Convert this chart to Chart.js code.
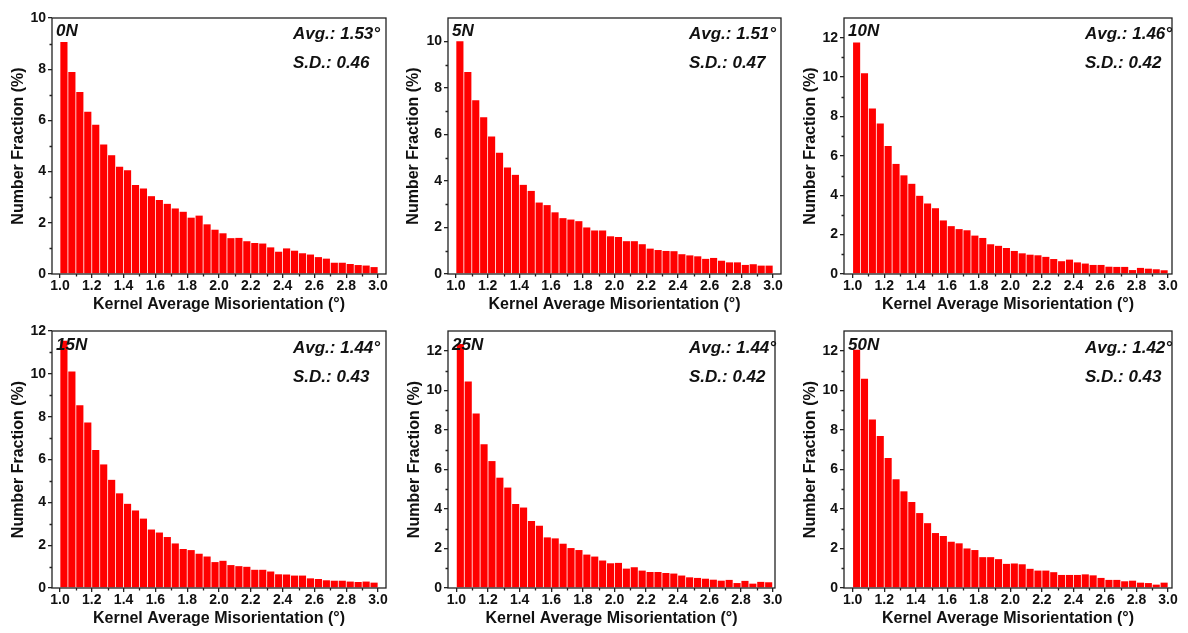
<!DOCTYPE html>
<html>
<head>
<meta charset="utf-8">
<title>Kernel Average Misorientation distributions</title>
<script src="https://cdn.jsdelivr.net/npm/chart.js@4.4.1/dist/chart.umd.min.js"></script>
<style>
  html, body { margin: 0; padding: 0; background: #ffffff; }
  #wrap { position: relative; width: 1188px; height: 633px; overflow: hidden; }
  .panel { position: absolute; }
</style>
</head>
<body>
<div id="wrap"></div>
<script>
// Histogram bins (centres, degrees), 0.05° wide
const binCenters = [1.025, 1.075, 1.125, 1.175, 1.225, 1.275, 1.325, 1.375, 1.425, 1.475,
                    1.525, 1.575, 1.625, 1.675, 1.725, 1.775, 1.825, 1.875, 1.925, 1.975,
                    2.025, 2.075, 2.125, 2.175, 2.225, 2.275, 2.325, 2.375, 2.425, 2.475,
                    2.525, 2.575, 2.625, 2.675, 2.725, 2.775, 2.825, 2.875, 2.925, 2.975];

// Number fraction (%) per bin for each load
const load0N  = [9.06, 7.89, 7.11, 6.34, 5.83, 5.06, 4.64, 4.19, 4.05, 3.48,
                 3.34, 3.04, 2.89, 2.74, 2.56, 2.43, 2.20, 2.28, 1.94, 1.73,
                 1.59, 1.40, 1.41, 1.28, 1.21, 1.19, 1.04, 0.87, 1.00, 0.91,
                 0.81, 0.76, 0.66, 0.60, 0.44, 0.44, 0.39, 0.35, 0.33, 0.27];
const load5N  = [10.00, 8.68, 7.47, 6.73, 5.91, 5.21, 4.58, 4.26, 3.83, 3.57,
                 3.07, 2.96, 2.65, 2.40, 2.34, 2.27, 2.00, 1.87, 1.87, 1.62,
                 1.59, 1.41, 1.41, 1.28, 1.09, 1.03, 0.99, 0.98, 0.85, 0.80,
                 0.76, 0.65, 0.69, 0.57, 0.50, 0.50, 0.39, 0.42, 0.36, 0.36];
const load10N = [11.75, 10.19, 8.40, 7.64, 6.50, 5.59, 5.01, 4.58, 3.97, 3.58,
                 3.34, 2.72, 2.43, 2.28, 2.22, 1.95, 1.83, 1.51, 1.43, 1.32,
                 1.17, 1.05, 0.98, 0.95, 0.87, 0.76, 0.65, 0.73, 0.59, 0.53,
                 0.46, 0.46, 0.37, 0.36, 0.36, 0.20, 0.31, 0.27, 0.24, 0.19];
const load15N = [11.54, 10.11, 8.53, 7.73, 6.44, 5.77, 5.05, 4.42, 3.93, 3.62,
                 3.24, 2.73, 2.59, 2.38, 2.08, 1.82, 1.77, 1.60, 1.47, 1.21,
                 1.27, 1.07, 1.02, 0.99, 0.85, 0.85, 0.77, 0.64, 0.63, 0.58,
                 0.58, 0.45, 0.42, 0.36, 0.34, 0.34, 0.30, 0.28, 0.30, 0.25];
const load25N = [12.34, 10.44, 8.83, 7.27, 6.42, 5.58, 5.08, 4.25, 4.07, 3.39,
                 3.15, 2.56, 2.51, 2.24, 2.02, 1.92, 1.69, 1.59, 1.39, 1.25,
                 1.27, 0.98, 1.05, 0.88, 0.81, 0.81, 0.76, 0.73, 0.63, 0.54,
                 0.51, 0.47, 0.42, 0.37, 0.41, 0.25, 0.36, 0.22, 0.31, 0.29];
const load50N = [12.05, 10.59, 8.52, 7.69, 6.57, 5.50, 4.89, 4.35, 3.79, 3.28,
                 2.78, 2.63, 2.34, 2.26, 2.00, 1.92, 1.56, 1.56, 1.46, 1.22,
                 1.24, 1.20, 0.97, 0.88, 0.88, 0.80, 0.66, 0.66, 0.66, 0.69,
                 0.64, 0.51, 0.41, 0.41, 0.34, 0.37, 0.27, 0.25, 0.17, 0.27];

const panelNames = ['0N', '5N', '10N', '15N', '25N', '50N'];
const avgValues  = ['1.53', '1.51', '1.46', '1.44', '1.44', '1.42'];
const sdValues   = ['0.46', '0.47', '0.42', '0.43', '0.42', '0.43'];
const seriesList = [load0N, load5N, load10N, load15N, load25N, load50N];

// Axis tick labels and ranges
const xTickValues = [1.0, 1.2, 1.4, 1.6, 1.8, 2.0, 2.2, 2.4, 2.6, 2.8, 3.0];
const xMinorValues = [1.1, 1.3, 1.5, 1.7, 1.9, 2.1, 2.3, 2.5, 2.7, 2.9];
const yMaxValues = [10, 11, 13, 12, 13, 13];
const xMinValues = [0.95, 0.95, 0.945, 0.95, 0.947, 0.945];
const xMaxValues = [3.05, 3.05, 3.025, 3.05, 3.015, 3.025];

// Page layout: outer box of each panel and the plot frame inside it
const boxes = [
  { x: 0,   y: 0,   w: 395, h: 315 }, { x: 395, y: 0,   w: 395, h: 315 }, { x: 790, y: 0,   w: 398, h: 315 },
  { x: 0,   y: 315, w: 395, h: 318 }, { x: 395, y: 315, w: 395, h: 318 }, { x: 790, y: 315, w: 398, h: 318 }
];
const frames = [
  { L: 52,  R: 386,  T: 18,  B: 274 }, { L: 448, R: 781,  T: 18,  B: 274 }, { L: 844, R: 1172, T: 18,  B: 274 },
  { L: 52,  R: 386,  T: 331, B: 588 }, { L: 448, R: 775,  T: 331, B: 588 }, { L: 844, R: 1172, T: 331, B: 588 }
];
const yTitleCenters = [19, 414, 810.5, 19, 415, 811];
const xTitleCenters = [304.5, 304.5, 304.5, 618.5, 618.5, 618.5];

const FONT = '"Liberation Sans", Arial, Helvetica, sans-serif';
const INK = '#111111';
const FRAME = '#222222';
const TITLE_SIZE = 16;

// Frame, minor ticks and in-plot annotations
const panelDecor = {
  id: 'panelDecor',
  afterDraw(chart, args, opts) {
    const ctx = chart.ctx;
    const a = chart.chartArea;
    const xs = chart.scales.x, ys = chart.scales.y;
    ctx.save();
    ctx.strokeStyle = FRAME;
    ctx.lineWidth = 1.3;
    // minor ticks
    ctx.beginPath();
    for (let v = 1; v < opts.yMax; v += 2) {
      const py = Math.round(ys.getPixelForValue(v)) + 0.5;
      ctx.moveTo(a.left - 2.5, py); ctx.lineTo(a.left, py);
    }
    xMinorValues.forEach(v => {
      const px = Math.round(xs.getPixelForValue(v)) + 0.5;
      ctx.moveTo(px, a.bottom); ctx.lineTo(px, a.bottom + 2.5);
    });
    ctx.stroke();
    // frame
    ctx.strokeRect(a.left, a.top, a.right - a.left, a.bottom - a.top);
    // labels
    ctx.fillStyle = INK;
    ctx.textAlign = 'left';
    ctx.textBaseline = 'alphabetic';
    ctx.font = 'italic bold 17px ' + FONT;
    ctx.fillText(opts.name, a.left + 4, a.top + opts.nameDy);
    ctx.fillText('Avg.: ' + opts.avg + '°', a.left + 241, a.top + opts.nameDy + 3);
    ctx.fillText('S.D.: ' + opts.sd, a.left + 241, a.top + opts.nameDy + 32);
    ctx.restore();
  }
};

const wrap = document.getElementById('wrap');

seriesList.forEach((values, i) => {
  const box = boxes[i], fr = frames[i];
  const div = document.createElement('div');
  div.className = 'panel';
  div.style.left = box.x + 'px';
  div.style.top = box.y + 'px';
  div.style.width = box.w + 'px';
  div.style.height = box.h + 'px';
  const canvas = document.createElement('canvas');
  div.appendChild(canvas);
  wrap.appendChild(div);

  const half = TITLE_SIZE * 1.2 / 2;
  const yAxisWidth = fr.L - box.x;
  const xAxisHeight = box.y + box.h - fr.B;
  const yTitlePad = yTitleCenters[i] - box.x - half;
  const xTitlePad = Math.max(0, box.y + box.h - xTitleCenters[i] - half);

  new Chart(canvas, {
    type: 'bar',
    data: {
      datasets: [{
        label: panelNames[i],
        data: binCenters.map((x, k) => ({ x: x, y: values[k] })),
        backgroundColor: '#ff0000',
        borderWidth: 0,
        barPercentage: 0.9,
        categoryPercentage: 1.0
      }]
    },
    options: {
      responsive: true,
      maintainAspectRatio: false,
      devicePixelRatio: 1,
      animation: false,
      layout: { padding: { left: 0, bottom: 0, top: fr.T - box.y, right: box.x + box.w - fr.R } },
      plugins: {
        legend: { display: false },
        tooltip: { enabled: false },
        panelDecor: {
          name: panelNames[i], avg: avgValues[i], sd: sdValues[i],
          yMax: yMaxValues[i], nameDy: i < 3 ? 18 : 19
        }
      },
      scales: {
        x: {
          type: 'linear',
          min: xMinValues[i],
          max: xMaxValues[i],
          offset: false,
          afterBuildTicks: s => { s.ticks = xTickValues.map(v => ({ value: v })); },
          afterFit: s => { s.height = xAxisHeight; },
          ticks: {
            autoSkip: false, maxRotation: 0, minRotation: 0, padding: 0,
            color: INK, font: { family: FONT, size: 14, weight: 'bold' },
            callback: v => Number(v).toFixed(1)
          },
          grid: { offset: false, drawOnChartArea: false, drawTicks: true, tickLength: 4, color: FRAME, lineWidth: 1.3 },
          border: { display: false },
          title: {
            display: true, text: 'Kernel Average Misorientation (°)', color: INK,
            font: { family: FONT, size: TITLE_SIZE, weight: 'bold' },
            padding: { top: 0, bottom: xTitlePad }
          }
        },
        y: {
          type: 'linear',
          min: 0,
          max: yMaxValues[i],
          afterBuildTicks: s => {
            const t = [];
            for (let v = 0; v <= yMaxValues[i]; v += 2) t.push({ value: v });
            s.ticks = t;
          },
          afterFit: s => { s.width = yAxisWidth; },
          ticks: {
            padding: 2, color: INK, font: { family: FONT, size: 14, weight: 'bold' },
            callback: v => String(v)
          },
          grid: { drawOnChartArea: false, drawTicks: true, tickLength: 4, color: FRAME, lineWidth: 1.3 },
          border: { display: false },
          title: {
            display: true, text: 'Number Fraction (%)', color: INK,
            font: { family: FONT, size: TITLE_SIZE, weight: 'bold' },
            padding: { top: yTitlePad, bottom: 0 }
          }
        }
      }
    },
    plugins: [panelDecor]
  });
});
</script>
</body>
</html>
